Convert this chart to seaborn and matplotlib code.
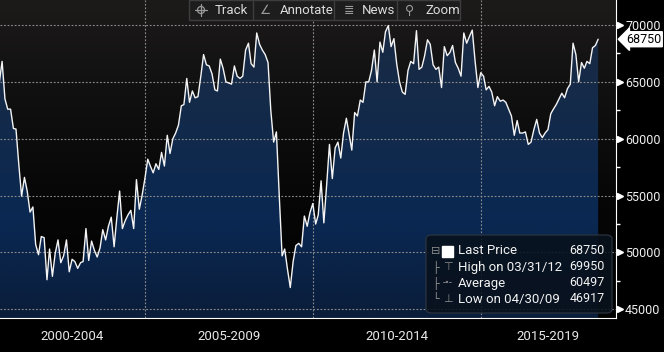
import numpy as np
import pandas as pd
import seaborn as sns
import matplotlib
matplotlib.use("Agg")
import matplotlib.pyplot as plt
import matplotlib.dates as mdates
import matplotlib.transforms as mtransforms
from matplotlib.colors import LinearSegmentedColormap
from matplotlib.patches import FancyBboxPatch, Rectangle, Circle
from matplotlib.ticker import MultipleLocator

# monthly last price, month-end, Aug 2000 .. Jun 2018
FIRST_MONTH = "2000-08-31"
LAST_PRICE = [
    65000, 66800, 63500, 62600, 62600, 60900, 60850, 57700, 54950, 56600,
    55400, 53550, 54000, 50700, 49800, 51400, 51300, 47600, 50300, 47900,
    49900, 51100, 49100, 49700, 51100, 48300, 49400, 49200, 48600, 49100,
    49200, 52100, 49300, 51000, 50200, 49600, 50400, 52000, 51100, 52300,
    53100, 50500, 53000, 55400, 52100, 52800, 53300, 53700, 52100, 56400,
    53800, 55000, 56500, 58200, 57600, 57000, 57800, 57300, 58800, 57600,
    60300, 58700, 60000, 60500, 61200, 62900, 63000, 65300, 63200, 64200,
    63600, 63700, 65500, 67400, 66500, 66400, 65700, 64300, 64200, 67000,
    66200, 65000, 64900, 64800, 66400, 65500, 65300, 65500, 67800, 68400,
    66600, 66300, 69300, 68300, 67800, 67400, 66700, 62500, 59700, 60600,
    55000, 49700, 50300, 48500, 46917, 49200, 50600, 50800, 50500, 53200,
    52300, 53500, 54300, 52500, 53300, 56300, 52600, 56000, 59500, 56500,
    59200, 59700, 58300, 60500, 61800, 60300, 59000, 62300, 62000, 63400,
    63200, 65000, 65000, 66000, 67800, 65000, 68500, 67600, 69400, 69950,
    68100, 68800, 66600, 65000, 64100, 63900, 66000, 66800, 66600, 69500,
    66100, 66300, 67300, 68700, 68300, 66500, 66100, 66300, 64500, 68100,
    67300, 67600, 68200, 66700, 66200, 65500, 69300, 68400, 69000, 69550,
    66800, 64500, 65800, 65500, 64300, 64600, 64100, 62900, 63700, 63300,
    63400, 63200, 62600, 62000, 60300, 61600, 60500, 60500, 60600, 59500,
    59700, 60800, 61700, 60500, 60100, 60500, 60800, 62200, 62600, 63000,
    63500, 64000, 63600, 64400, 64800, 68400, 67400, 65000, 66700, 66200,
    66800, 66600, 68000, 68200, 68750,
]

Y_TICKS = [45000, 50000, 55000, 60000, 65000, 70000]
PERIOD_LABELS = ["2000-2004", "2005-2009", "2010-2014", "2015-2019"]
PERIOD_BOUNDS = ["2000-01-01", "2005-01-01", "2010-01-01", "2015-01-01", "2020-01-01"]
LEGEND_NAMES = ["Last Price", "High on 03/31/12", "Average", "Low on 04/30/09"]
LEGEND_VALUES = ["68750", "69950", "60497", "46917"]
TOOLBAR_NAMES = ["Track", "Annotate", "News", "Zoom"]
TOOLBAR_ICONS = [None, "\u2220", "\u2263", "\u26b2"]  # crosshair drawn as a shape

W, H = 664, 352
FAMILIES = ["Roboto", "DejaVu Sans", "DejaVu Sans Mono", "Noto Sans",
            "Noto Sans CJK SC"]


def fpx(x, y):
    # figure pixel (from top-left) -> figure fraction
    return x / W, 1 - y / H


def gradient(ax, stops, extent, zorder):
    cmap = LinearSegmentedColormap.from_list("g", stops)
    grad = np.linspace(0, 1, 256).reshape(-1, 1)
    return ax.imshow(grad, cmap=cmap, aspect="auto", extent=extent,
                     origin="upper", zorder=zorder, interpolation="bilinear")


def draw_chart():
    dates = pd.date_range(FIRST_MONTH, periods=len(LAST_PRICE), freq="ME")
    data = pd.DataFrame({"date": dates, "price": LAST_PRICE})

    fig = plt.figure(figsize=(W / 100, H / 100), dpi=100)
    fig.patch.set_facecolor("black")
    ax = fig.add_axes([0, 34 / H, 616 / W, 318 / H])
    ax.set_facecolor("black")

    # 168 px per 5 years, 2000-01-01 sits 23 px left of the axes
    d0 = mdates.date2num(pd.Timestamp("2000-01-01"))
    day_px = 168 / 1827
    x0, x1 = d0 + 23 / day_px, d0 + 639 / day_px
    y0, y1 = 44235, 72199
    extent = (x0, x1, y0, y1)

    gradient(ax, [(0, "#1d1a1a"), (0.3, "#101010"), (0.65, "#060606"), (1, "#020203")],
             extent, 0)
    poly = ax.fill_between(data["date"], data["price"], y0, facecolor="none",
                           edgecolor="none")
    fill = gradient(ax, [(0, "#1c2b42"), (0.35, "#132a4a"), (0.7, "#0a2852"),
                         (1, "#0a1d3a")], extent, 1)
    fill.set_clip_path(poly.get_paths()[0], transform=ax.transData)

    sns.lineplot(data=data, x="date", y="price", color="#f4f4f4", lw=1.0, ax=ax,
                 zorder=3)

    ax.set_xlim(x0, x1)
    ax.set_ylim(y0, y1)
    ax.set_xlabel("")
    ax.set_ylabel("")

    for s in ["left", "top"]:
        ax.spines[s].set_visible(False)
    ax.spines["bottom"].set_color("white")
    ax.spines["right"].set_color("white")

    # x axis: 5-year separators, yearly minor ticks
    bounds = [mdates.date2num(pd.Timestamp(b)) for b in PERIOD_BOUNDS]
    ax.set_xticks(bounds[1:4])
    ax.set_xticklabels([])
    ax.xaxis.set_minor_locator(mdates.YearLocator(1))
    ax.tick_params(axis="x", which="major", length=25, color="#7a7a7a", width=1)
    ax.tick_params(axis="x", which="minor", length=2.5, color="white", width=1)
    btrans = mtransforms.blended_transform_factory(ax.transData, ax.transAxes)
    for lab, a, b in zip(PERIOD_LABELS, bounds[:-1], bounds[1:]):
        c = (max(a, x0) + min(b, x1)) / 2
        ax.text(c, -18 / 318, lab, transform=btrans, ha="center", va="center",
                color="#e8e8e8", fontsize=9.5)

    # y axis on the right
    ax.yaxis.tick_right()
    ax.set_yticks(Y_TICKS)
    ax.set_yticklabels([str(t) for t in Y_TICKS])
    ax.yaxis.set_minor_locator(MultipleLocator(2500))
    ax.tick_params(axis="y", which="major", length=0, pad=6.5, labelcolor="#f0f0f0",
                   labelsize=9)
    ax.tick_params(axis="y", which="minor", length=3, color="white", width=1)
    rtrans = mtransforms.blended_transform_factory(ax.transAxes, ax.transData)
    ax.plot([1 + 4 / 616] * len(Y_TICKS), Y_TICKS, ls="none", marker=">", ms=4.5,
            color="white", transform=rtrans, clip_on=False)

    ax.grid(axis="both", which="major", color="#8c8c8c", lw=0.8,
            ls=(0, (1.6, 1.6)))
    ax.set_axisbelow(False)

    # last price tag
    ax.text(1 + 10 / 616, LAST_PRICE[-1], str(LAST_PRICE[-1]), transform=rtrans,
            ha="left", va="center", fontsize=9, color="black",
            bbox=dict(boxstyle="larrow,pad=0.08", fc="white", ec="white"))

    draw_toolbar(fig)
    draw_legend(fig)
    fig.savefig("out.png", dpi=100, facecolor="black")


def draw_crosshair(fig, x, y, color):
    # no installed font has U+2316, so draw the icon
    tr = fig.dpi_scale_trans
    cx, cy = x / 100, (H - y) / 100
    fig.add_artist(Circle((cx, cy), 0.035, transform=tr, fill=False, ec=color,
                          lw=0.9, zorder=7))
    fig.add_artist(plt.Line2D([cx - 0.06, cx + 0.06], [cy, cy], transform=tr,
                              color=color, lw=0.9, zorder=7))
    fig.add_artist(plt.Line2D([cx, cx], [cy - 0.06, cy + 0.06], transform=tr,
                              color=color, lw=0.9, zorder=7))


def draw_toolbar(fig):
    x, y = fpx(189, 20)
    fig.patches.append(Rectangle((x, y), 271 / W, 20 / H, transform=fig.transFigure,
                                 fc="#1d1d1d", ec="#3d3d3d", lw=1, zorder=5))
    for sx in [253, 334, 397]:
        fig.add_artist(plt.Line2D([sx / W] * 2, [1 - 1 / H, 1 - 19 / H],
                                  transform=fig.transFigure, color="#3d3d3d",
                                  lw=1, zorder=6))
    icon_x = [201, 266, 349, 410]
    text_x = [215, 280, 362, 425]
    for name, icon, ix, tx in zip(TOOLBAR_NAMES, TOOLBAR_ICONS, icon_x, text_x):
        if icon is None:
            draw_crosshair(fig, ix, 10, "#9a9a9a")
        else:
            fig.text(*fpx(ix, 10), icon, ha="center", va="center", color="#9a9a9a",
                     fontsize=9, zorder=7, family=FAMILIES)
        fig.text(*fpx(tx, 10), name, ha="left", va="center", color="#dcdcdc",
                 fontsize=9.5, zorder=7)


def draw_legend(fig):
    x, y = fpx(426, 313)
    box = FancyBboxPatch((x, y), 186 / W, 78 / H, transform=fig.transFigure,
                         boxstyle="round,pad=0,rounding_size=0.01",
                         fc="#08111c", ec="#2c3440", lw=1, alpha=0.88, zorder=5)
    fig.patches.append(box)
    rows = [251, 267, 283, 299]
    tree = ["\u229f", "\u251c", "\u251c", "\u2514"]
    icons = ["", "\u22a4", "-\u2022-", "\u22a5"]
    for i, (name, val) in enumerate(zip(LEGEND_NAMES, LEGEND_VALUES)):
        ry = rows[i]
        fig.text(*fpx(436, ry), tree[i], ha="center", va="center", color="#8a8a8a",
                 fontsize=8, zorder=7, family=FAMILIES)
        if i == 0:
            sx, sy = fpx(442, 257)
            fig.patches.append(Rectangle((sx, sy), 11 / W, 11 / H,
                                         transform=fig.transFigure, fc="white",
                                         ec="white", zorder=7))
        else:
            fig.text(*fpx(448, ry), icons[i], ha="center", va="center",
                     color="#8a8a8a", fontsize=8, zorder=7, family=FAMILIES)
        fig.text(*fpx(458, ry), name, ha="left", va="center", color="#f2f2f2",
                 fontsize=9.5, zorder=7)
        fig.text(*fpx(605, ry), val, ha="right", va="center", color="#f2f2f2",
                 fontsize=9, zorder=7)


def main():
    sns.set_style("dark")
    plt.rcParams["font.family"] = FAMILIES
    draw_chart()


if __name__ == "__main__":
    main()
